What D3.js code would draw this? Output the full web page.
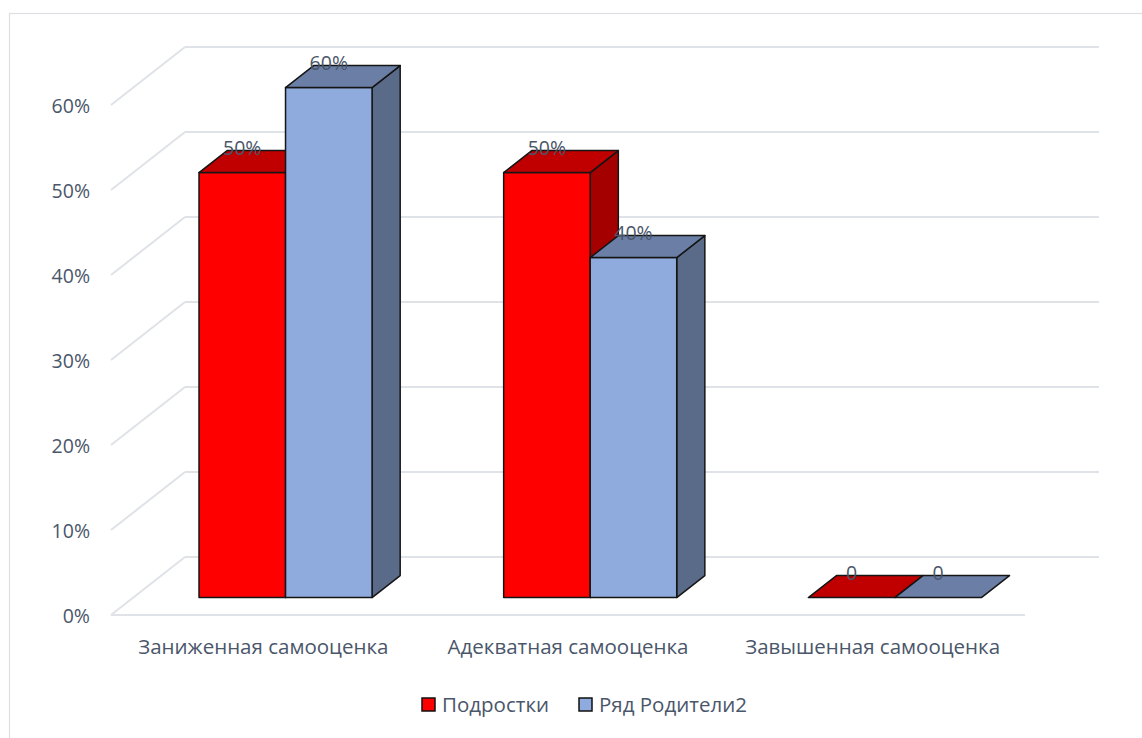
<!DOCTYPE html>
<html>
<head>
<meta charset="utf-8">
<script src="https://cdn.jsdelivr.net/npm/d3@7"></script>
<style>
	body { margin: 0; background: #fff; }
	svg { display: block; }
</style>
</head>
<body>
<div id="chart"></div>
<script>
var categories = ["Заниженная самооценка", "Адекватная самооценка", "Завышенная самооценка"];
var seriesNames = ["Подростки", "Ряд Родители2"];
var teenValues = [0.5, 0.5, 0];
var parentValues = [0.6, 0.4, 0];
var labelTexts = [["50%", "50%", "0"], ["60%", "40%", "0"]];
var yTicks = [0, 0.1, 0.2, 0.3, 0.4, 0.5, 0.6];

var width = 1142,
	height = 738;

// faces: front, top, side
var palette = [
	{ front: "#ff0000", top: "#c00000", side: "#a50000" },
	{ front: "#8faadc", top: "#6b7fa6", side: "#5a6a89" }
];

var textColor = "#4a566a",
	gridColor = "#dfe2e7",
	font = "'Open Sans', sans-serif";

// floor front edge (z = 0) and depth of the wall
var left = 111, right = 1025;
var depthX = 74, depthY = 58;

var y = d3.scaleLinear()
	.domain([0, 0.6])
	.range([615, 105]);

var x0 = d3.scaleBand()
	.domain(categories)
	.range([left, right])
	.paddingInner(0.432)
	.paddingOuter(0.216);

var x1 = d3.scaleBand()
	.domain(seriesNames)
	.range([0, x0.bandwidth()]);

// oblique projection: z runs from 0 (front) to 1 (back wall)
function proj(px, v, z) {
	return [px + z * depthX, y(v) - z * depthY];
}

var barFrontZ = 0.3,
	barBackZ = 0.68;

var svg = d3.select("#chart").append("svg")
	.attr("width", width)
	.attr("height", height);

svg.append("rect")
	.attr("x", 9.5)
	.attr("y", 13.5)
	.attr("width", 1200)
	.attr("height", 800)
	.attr("fill", "none")
	.attr("stroke", "#dcdfe4")
	.attr("stroke-width", 1.2);

var grid = svg.append("g");

yTicks.forEach(function(t) {
	var a = proj(left, t, 1),
		b = proj(right, t, 1),
		c = proj(left, t, 0);
	grid.append("line")
		.attr("x1", a[0]).attr("y1", a[1])
		.attr("x2", b[0]).attr("y2", b[1])
		.style("stroke", gridColor)
		.style("stroke-width", 2);
	grid.append("line")
		.attr("x1", a[0]).attr("y1", a[1])
		.attr("x2", c[0]).attr("y2", c[1])
		.style("stroke", gridColor)
		.style("stroke-width", 2);
});

// floor front edge
grid.append("line")
	.attr("x1", proj(left, 0, 0)[0]).attr("y1", proj(left, 0, 0)[1])
	.attr("x2", proj(right, 0, 0)[0]).attr("y2", proj(right, 0, 0)[1])
	.style("stroke", gridColor)
	.style("stroke-width", 2);

svg.append("g").selectAll("text")
	.data(yTicks)
	.join("text")
	.attr("x", 90)
	.attr("y", function(d) { return y(d) + 1; })
	.attr("dy", "0.35em")
	.style("text-anchor", "end")
	.style("fill", textColor)
	.style("font-family", font)
	.style("font-size", "19.5px")
	.text(d3.format(".0%"));

var seriesValues = [teenValues, parentValues];

var bars = svg.append("g");
var labels = [];

function pts(list) {
	return list.map(function(p) { return p.join(","); }).join(" ");
}

function face(g, points, fill) {
	g.append("polygon")
		.attr("points", pts(points))
		.attr("fill", fill)
		.attr("stroke", "#151515")
		.attr("stroke-width", 1.5)
		.attr("stroke-linejoin", "round");
}

categories.forEach(function(cat, ci) {
	seriesNames.forEach(function(name, si) {
		var v = seriesValues[si][ci];
		var xl = x0(cat) + x1(name),
			xr = xl + x1.bandwidth();
		var col = palette[si];

		var front = [proj(xl, 0, barFrontZ), proj(xr, 0, barFrontZ), proj(xr, v, barFrontZ), proj(xl, v, barFrontZ)];
		var top = [proj(xl, v, barFrontZ), proj(xr, v, barFrontZ), proj(xr, v, barBackZ), proj(xl, v, barBackZ)];
		var side = [proj(xr, 0, barFrontZ), proj(xr, 0, barBackZ), proj(xr, v, barBackZ), proj(xr, v, barFrontZ)];

		var g = bars.append("g");
		if (v > 0) {
			face(g, side, col.side);
			face(g, front, col.front);
		}
		face(g, top, col.top);

		labels.push({
			x: (xl + xr) / 2 + barFrontZ * depthX,
			y: proj(xl, v, barBackZ)[1] - 2,
			text: labelTexts[si][ci]
		});
	});
});

svg.append("g").selectAll("text")
	.data(labels)
	.join("text")
	.attr("x", function(d) { return d.x; })
	.attr("y", function(d) { return d.y; })
	.attr("dy", "0.35em")
	.style("text-anchor", "middle")
	.style("fill", textColor)
	.style("font-family", font)
	.style("font-size", "19.5px")
	.text(function(d) { return d.text; });

svg.append("g").selectAll("text")
	.data(categories)
	.join("text")
	.attr("x", function(d) { return x0(d) + x0.bandwidth() / 2; })
	.attr("y", 647)
	.attr("dy", "0.35em")
	.style("text-anchor", "middle")
	.style("fill", textColor)
	.style("font-family", font)
	.style("font-size", "20.5px")
	.text(function(d) { return d; });

// legend
var legendX = [422, 579];
var legend = svg.append("g").selectAll("g")
	.data(seriesNames)
	.join("g")
	.attr("transform", function(d, i) { return "translate(" + legendX[i] + ",698)"; });

legend.append("rect")
	.attr("width", 13)
	.attr("height", 13)
	.attr("fill", function(d, i) { return palette[i].front; })
	.attr("stroke", "#111")
	.attr("stroke-width", 1.5);

legend.append("text")
	.attr("x", 20)
	.attr("y", 7)
	.attr("dy", "0.35em")
	.style("fill", textColor)
	.style("font-family", font)
	.style("font-size", "20.5px")
	.text(function(d) { return d; });
</script>
</body>
</html>
